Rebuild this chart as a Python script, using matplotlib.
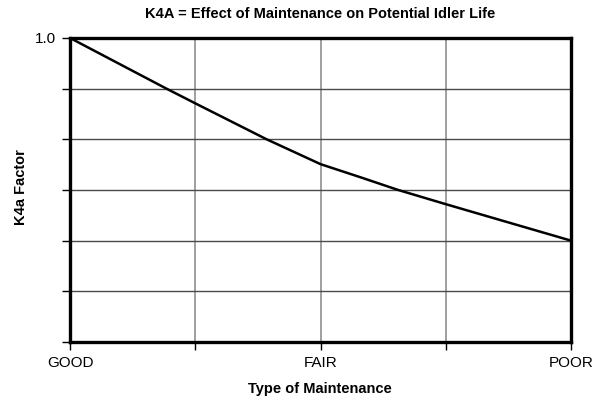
import matplotlib
matplotlib.use('Agg')
import matplotlib.pyplot as plt

# K4a factor read along the maintenance scale (0 = GOOD, 2 = FAIR, 4 = POOR)
maint_pos = [0, 0.77, 1.0, 1.57, 2.0, 2.32, 2.62, 3.0, 3.43, 4.0]
k4a_vals = [1.0, 0.90, 0.871, 0.80, 0.751, 0.725, 0.70, 0.672, 0.641, 0.60]
x_labels = ["GOOD", "", "FAIR", "", "POOR"]
y_ticks = [0.4, 0.5, 0.6, 0.7, 0.8, 0.9, 1.0]
y_labels = ["", "", "", "", "", "", "1.0"]

plt.rcParams['font.family'] = ['Liberation Sans', 'DejaVu Sans']

fig = plt.figure(figsize=(6.03, 4.04), dpi=100)
ax = fig.add_axes([0.1161, 0.1535, 0.8309, 0.7525])

ax.plot(maint_pos, k4a_vals, color="black", linewidth=1.8,
        solid_joinstyle='round', zorder=3)

ax.set_xlim(0, 4)
ax.set_ylim(0.4, 1.0)
ax.set_xticks(range(5))
ax.set_xticklabels(x_labels, fontsize=11)
ax.set_yticks(y_ticks)
ax.set_yticklabels(y_labels, fontsize=11)

for v in [1, 2, 3]:
    ax.axvline(v, color="#858585", linewidth=1.1, zorder=1)
for v in y_ticks[1:-1]:
    ax.axhline(v, color="#4a4a4a", linewidth=1.0, zorder=1)

for spine in ax.spines.values():
    spine.set_linewidth(2.4)
    spine.set_color("black")
ax.tick_params(direction='out', length=6, width=1.0, colors="black", pad=4)

fig.text(320 / 603, 1 - 14 / 404, "K4A = Effect of Maintenance on Potential Idler Life",
         fontsize=10.5, fontweight='bold', ha='center', va='center')
fig.text(320 / 603, 1 - 389 / 404, "Type of Maintenance",
         fontsize=10.5, fontweight='bold', ha='center', va='center')
fig.text(21 / 603, 1 - 187 / 404, "K4a Factor", rotation=90,
         fontsize=10.5, fontweight='bold', ha='center', va='center')

fig.savefig("out.png", dpi=100, facecolor="white")
